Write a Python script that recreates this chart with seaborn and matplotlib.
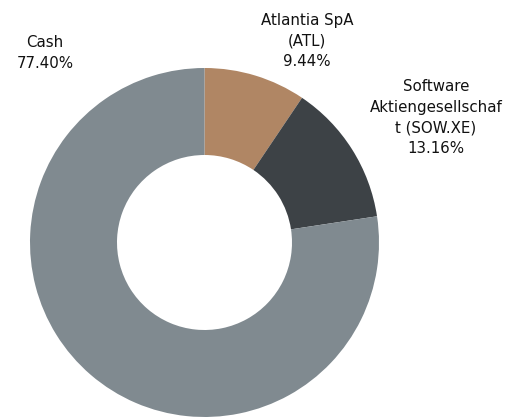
import matplotlib
matplotlib.use("Agg")
import matplotlib.pyplot as plt
import seaborn as sns

# holdings breakdown
names = ["Atlantia SpA\n(ATL)", "Software\nAktiengesellschaf\nt (SOW.XE)", "Cash"]
weights = [9.44, 13.16, 77.40]
colors = ["#b08664", "#3d4246", "#808a90"]

# label anchor points in pixel-like data units (y up)
label_pos = [(307, 376), (436, 299.5), (45, 364)]

sns.set_theme(style="white")
plt.rcParams["font.family"] = ["DejaVu Sans"]

fig = plt.figure(figsize=(5.09, 4.17), dpi=100)
ax = fig.add_axes([0, 0, 1, 1])

ax.pie(weights, colors=colors, startangle=90, counterclock=False,
       center=(204.5, 174.5), radius=174.5, frame=True,
       wedgeprops=dict(width=87, linewidth=0))

for name, w, (x, y) in zip(names, weights, label_pos):
    ax.text(x, y, f"{name}\n{w:.2f}%", ha="center", va="center",
            fontsize=10.8, color="#111111", linespacing=1.45)

ax.set_xlim(0, 509)
ax.set_ylim(0, 417)
ax.set_aspect("equal")
ax.axis("off")

fig.savefig("out.png", dpi=100)
